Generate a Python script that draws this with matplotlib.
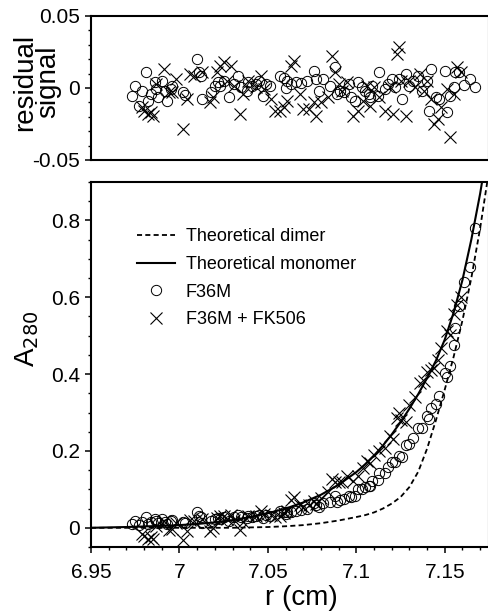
import matplotlib
matplotlib.use("Agg")
import matplotlib.pyplot as plt
from matplotlib.ticker import MultipleLocator

plt.rcParams["font.family"] = ["Liberation Sans", "DejaVu Sans"]

# theoretical curves
dimer_r = [6.95, 7.00, 7.03, 7.05, 7.06, 7.07, 7.08, 7.09, 7.10, 7.105, 7.11,
           7.115, 7.12, 7.125, 7.13, 7.135, 7.14, 7.145, 7.15, 7.155, 7.16,
           7.165, 7.17, 7.175]
dimer_A = [0.0, 0.0, 0.0, 0.002, 0.004, 0.007, 0.012, 0.019, 0.028, 0.033, 0.040,
           0.050, 0.063, 0.080, 0.106, 0.146, 0.206, 0.280, 0.360, 0.445, 0.540,
           0.650, 0.780, 0.930]

mono_r = [6.95, 6.97, 6.99, 7.00, 7.01, 7.02, 7.03, 7.04, 7.05, 7.06, 7.07,
          7.08, 7.09, 7.10, 7.105, 7.11, 7.115, 7.12, 7.125, 7.13, 7.135, 7.14,
          7.145, 7.15, 7.155, 7.16, 7.165, 7.17, 7.175]
mono_A = [0.0, 0.002, 0.005, 0.007, 0.010, 0.014, 0.020, 0.028, 0.038, 0.050,
          0.066, 0.086, 0.112, 0.145, 0.165, 0.188, 0.214, 0.243, 0.275, 0.310,
          0.348, 0.390, 0.435, 0.490, 0.560, 0.645, 0.750, 0.870, 1.010]

# F36M (circles)
f36m_r = [6.973, 6.975, 6.977, 6.979, 6.981, 6.982, 6.984, 6.986, 6.987, 6.988,
          6.990, 6.992, 6.993, 6.995, 6.996, 7.002, 7.003, 7.010, 7.011, 7.012,
          7.013, 7.018, 7.020, 7.022, 7.023, 7.025, 7.028, 7.031, 7.033, 7.035,
          7.038, 7.039, 7.041, 7.043, 7.045, 7.047, 7.049, 7.051, 7.057, 7.059,
          7.060, 7.061, 7.063, 7.066, 7.069, 7.072, 7.076, 7.077, 7.079, 7.081,
          7.085, 7.088, 7.089, 7.091, 7.093, 7.096, 7.097, 7.099, 7.101, 7.103,
          7.105, 7.107, 7.108, 7.109, 7.112, 7.113, 7.116, 7.118, 7.120, 7.122,
          7.124, 7.126, 7.128, 7.130, 7.132, 7.135, 7.137, 7.140, 7.141, 7.142,
          7.145, 7.147, 7.150, 7.151, 7.153, 7.155, 7.156, 7.158, 7.161, 7.164,
          7.167]
f36m_A = [0.010, 0.018, 0.006, 0.016, 0.028, 0.010, 0.014, 0.022, 0.017, 0.012,
          0.023, 0.016, 0.009, 0.017, 0.019, 0.015, 0.013, 0.040, 0.031, 0.029,
          0.013, 0.018, 0.023, 0.026, 0.024, 0.028, 0.018, 0.028, 0.034, 0.027,
          0.025, 0.031, 0.029, 0.031, 0.034, 0.025, 0.033, 0.032, 0.043, 0.042,
          0.036, 0.042, 0.041, 0.045, 0.046, 0.050, 0.064, 0.059, 0.053, 0.065,
          0.066, 0.082, 0.066, 0.072, 0.074, 0.083, 0.079, 0.082, 0.100, 0.102,
          0.106, 0.109, 0.110, 0.121, 0.124, 0.143, 0.143, 0.158, 0.171, 0.170,
          0.186, 0.183, 0.215, 0.217, 0.233, 0.259, 0.261, 0.290, 0.283, 0.312,
          0.323, 0.342, 0.402, 0.393, 0.420, 0.476, 0.520, 0.576, 0.640, 0.680,
          0.780]
f36m_res = [-0.0058, 0.0016, -0.0123, -0.0019, 0.0109, -0.0088, -0.0042, 0.0039,
            -0.0007, -0.0065, 0.0051, -0.0019, -0.0088, -0.0007, 0.0016, -0.0030,
            -0.0046, 0.0200, 0.0110, 0.0086, -0.0076, -0.0030, 0.0016, 0.0039,
            0.0016, 0.0051, -0.0065, 0.0028, 0.0086, 0.0005, -0.0019, 0.0039,
            0.0016, 0.0028, 0.0051, -0.0053, 0.0028, 0.0016, 0.0086, 0.0069,
            0.0000, 0.0051, 0.0028, 0.0039, 0.0032, 0.0051, 0.0120, 0.0063,
            -0.0019, 0.0063, 0.0016, 0.0144, -0.0042, -0.0019, -0.0030, 0.0028,
            -0.0065, -0.0088, 0.0039, 0.0005, -0.0019, -0.0042, -0.0065, 0.0016,
            -0.0053, 0.0109, -0.0007, 0.0028, 0.0063, 0.0005, 0.0063, -0.0076,
            0.0097, 0.0016, 0.0051, 0.0086, -0.0019, 0.0051, -0.0157, 0.0132,
            -0.0065, -0.0076, 0.0120, -0.0169, -0.0053, 0.0005, 0.0109, 0.0109,
            0.0020, 0.0060, 0.0005]

# F36M + FK506 (crosses)
fk_r = [6.979, 6.980, 6.982, 6.984, 6.985, 6.987, 6.991, 6.994, 6.996, 6.998,
        7.002, 7.004, 7.006, 7.008, 7.013, 7.017, 7.019, 7.021, 7.023, 7.025,
        7.027, 7.029, 7.031, 7.034, 7.036, 7.039, 7.043, 7.046, 7.048, 7.052,
        7.054, 7.057, 7.059, 7.061, 7.063, 7.065, 7.068, 7.070, 7.073, 7.076,
        7.077, 7.080, 7.084, 7.086, 7.088, 7.090, 7.092, 7.095, 7.098, 7.101,
        7.104, 7.106, 7.108, 7.110, 7.113, 7.116, 7.119, 7.121, 7.123, 7.124,
        7.125, 7.128, 7.130, 7.133, 7.136, 7.138, 7.140, 7.142, 7.144, 7.146,
        7.148, 7.151, 7.153, 7.155, 7.157, 7.159]
fk_A = [-0.015, -0.022, -0.028, -0.025, -0.030, 0.005, 0.018, -0.005, -0.004, 0.012,
        -0.032, -0.008, 0.020, 0.018, 0.022, -0.008, 0.000, 0.025, 0.030, 0.032,
        0.022, 0.033, 0.020, -0.005, 0.015, 0.030, 0.030, 0.043, 0.037, 0.034,
        0.029, 0.032, 0.038, 0.045, 0.073, 0.079, 0.060, 0.053, 0.059, 0.070,
        0.063, 0.078, 0.092, 0.127, 0.120, 0.118, 0.119, 0.135, 0.122, 0.136,
        0.156, 0.175, 0.169, 0.190, 0.199, 0.207, 0.240, 0.232, 0.287, 0.298,
        0.281, 0.275, 0.320, 0.340, 0.376, 0.381, 0.405, 0.412, 0.415, 0.438,
        0.467, 0.511, 0.502, 0.556, 0.580, 0.600]
fk_res = [-0.0134, -0.0157, -0.0180, -0.0169, -0.0192, 0.0028, 0.0132, -0.0030,
          -0.0030, 0.0063, -0.0285, -0.0076, 0.0097, 0.0086, 0.0109, -0.0100,
          -0.0065, 0.0109, 0.0155, 0.0178, 0.0051, 0.0155, 0.0016, -0.0180,
          -0.0042, 0.0051, 0.0005, 0.0086, -0.0007, -0.0076, -0.0157, -0.0157,
          -0.0134, -0.0088, 0.0155, 0.0190, -0.0042, -0.0146, -0.0146, -0.0100,
          -0.0192, -0.0100, -0.0065, 0.0225, 0.0109, 0.0028, -0.0019, 0.0039,
          -0.0192, -0.0157, -0.0088, 0.0016, -0.0123, 0.0005, -0.0065, -0.0157,
          0.0005, -0.0180, 0.0236, 0.0282, 0.0051, -0.0192, 0.0051, 0.0005,
          0.0097, -0.0019, 0.0051, -0.0076, -0.0250, -0.0215, -0.0134, -0.0007,
          -0.0343, -0.0042, 0.0144, 0.0109]

fig = plt.figure(figsize=(4.89, 6.12), dpi=100)
ax1 = fig.add_axes([0.1861, 0.7386, 0.8139, 0.2353])
ax2 = fig.add_axes([0.1861, 0.1062, 0.8139, 0.5964])

mk_o = dict(marker="o", ls="none", ms=7.4, mfc="none", mec="black", mew=0.7)
mk_x = dict(marker="x", ls="none", ms=8.2, mec="black", mew=0.8)

# residual panel
ax1.plot(f36m_r, f36m_res, **mk_o)
ax1.plot(fk_r, fk_res, **mk_x)
ax1.set_xlim(6.95, 7.175)
ax1.set_ylim(-0.05, 0.05)
ax1.set_yticks([-0.05, 0, 0.05])
ax1.set_yticklabels(["-0.05", "0", "0.05"])
ax1.yaxis.set_minor_locator(MultipleLocator(0.01))
ax1.set_xticks([])
ax1.tick_params(axis="x", which="both", bottom=False, labelbottom=False)
ax1.set_ylabel("residual\nsignal", fontsize=20, linespacing=0.85)
ax1.yaxis.set_label_coords(-0.075, 0.54)

# main panel
ax2.plot(dimer_r, dimer_A, color="black", lw=1.3, ls=(0, (2.8, 1.8)), label="Theoretical dimer")
ax2.plot(mono_r, mono_A, color="black", lw=1.5, label="Theoretical monomer")
ax2.plot(f36m_r, f36m_A, label="F36M", **mk_o)
ax2.plot(fk_r, fk_A, label="F36M + FK506", **mk_x)
ax2.set_xlim(6.95, 7.175)
ax2.set_ylim(-0.05, 0.9)
ax2.set_xticks([6.95, 7.0, 7.05, 7.1, 7.15])
ax2.set_xticklabels(["6.95", "7", "7.05", "7.1", "7.15"])
ax2.xaxis.set_minor_locator(MultipleLocator(0.01))
ax2.set_yticks([0, 0.2, 0.4, 0.6, 0.8])
ax2.set_yticklabels(["0", "0.2", "0.4", "0.6", "0.8"])
ax2.yaxis.set_minor_locator(MultipleLocator(0.05))
ax2.set_xlabel("r (cm)", fontsize=20)
ax2.xaxis.set_label_coords(0.528, -0.105)
ax2.set_ylabel("A$_{280}$", fontsize=20)
ax2.yaxis.set_label_coords(-0.125, 0.57)

leg = ax2.legend(loc="upper left", bbox_to_anchor=(0.115, 0.874), frameon=False,
                 fontsize=13, handlelength=2.1, handletextpad=0.6,
                 labelspacing=0.6, borderpad=0, borderaxespad=0)

for ax in (ax1, ax2):
    for s in ax.spines.values():
        s.set_linewidth(1.5)
    ax.tick_params(which="major", direction="out", length=4.5, width=1.1,
                   labelsize=15, pad=3.5)
    ax.tick_params(which="minor", direction="out", length=2.3, width=1.0)
ax2.tick_params(axis="x", which="major", pad=7)

fig.savefig("out.png", dpi=100)
